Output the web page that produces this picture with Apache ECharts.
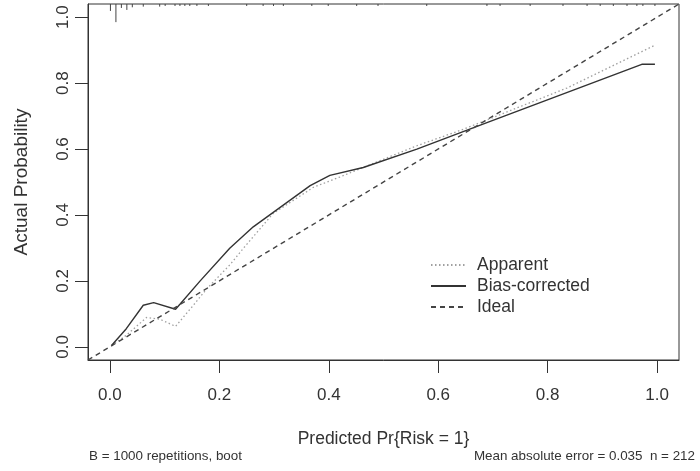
<!DOCTYPE html>
<html lang="en" style="height: 100%">
<head>
  <meta charset="utf-8">
</head>
<body style="height: 100%; margin: 0; background: #fff">
<div id="container" style="height: 100%"></div>

<script type="text/javascript" src="https://cdn.jsdelivr.net/npm/echarts@6/dist/echarts.min.js"></script>

<script type="text/javascript">
  // calibration curves, [predicted, actual]
  var apparent = [[0.003,0.004],[0.03,0.035],[0.067,0.089],[0.091,0.084],[0.12,0.062],[0.152,0.125],
    [0.176,0.174],[0.22,0.25],[0.244,0.299],[0.298,0.404],[0.372,0.484],[0.42,0.515],
    [0.561,0.61],[0.646,0.66],[0.835,0.785],[0.996,0.915]];
  var biasCorrected = [[0.003,0.004],[0.03,0.055],[0.061,0.126],[0.08,0.134],[0.12,0.114],[0.128,0.129],
    [0.165,0.2],[0.219,0.299],[0.262,0.364],[0.366,0.489],[0.402,0.52],[0.463,0.544],
    [0.561,0.6],[0.689,0.68],[0.972,0.857],[0.996,0.857]];
  var ideal = [[-0.04,-0.04],[1.04,1.04]];
  // rug of predicted values at the top: [position, tick length]
  var rugX = [0.001,0.011,0.021,0.031,0.041,0.061,0.091,0.101,0.119,0.128,0.137,0.146,0.159,0.18,
    0.25,0.28,0.299,0.317,0.369,0.399,0.451,0.49,0.579,0.689,0.713,0.768,0.828,0.872,0.896,0.92,
    0.945,0.963,0.974,0.996];
  var rugLen = [0.021,0.055,0.012,0.018,0.01,0.008,0.008,0.006,0.006,0.006,0.006,0.006,0.006,0.006,
    0.006,0.006,0.006,0.006,0.006,0.006,0.006,0.006,0.006,0.006,0.006,0.006,0.006,0.006,0.006,0.006,
    0.006,0.006,0.006,0.006];
  var tickValues = [0, 0.2, 0.4, 0.6, 0.8, 1.0];
  var xTitle = 'Predicted Pr{Risk = 1}';
  var yTitle = 'Actual Probability';
  var noteLeft = 'B = 1000 repetitions, boot';
  var noteRight = 'Mean absolute error = 0.035  n = 212';

  var font = "'Liberation Sans', Arial, sans-serif";
  var ink = '#333';
  var rug = rugX.map(function (x, i) { return [x, rugLen[i]]; });

  var dom = document.getElementById('container');
  var myChart = echarts.init(dom, null, { renderer: 'canvas' });

  var option = {
    animation: false,
    textStyle: { fontFamily: font, color: ink },
    grid: { left: 88, right: 21, top: 4, bottom: 111, show: true, borderColor: ink, borderWidth: 1 },
    xAxis: {
      type: 'value', min: -0.04, max: 1.04,
      name: xTitle, nameLocation: 'middle', nameGap: 70,
      nameTextStyle: { fontSize: 17.5, color: ink, fontFamily: font },
      splitLine: { show: false },
      axisLine: { show: true, onZero: false, lineStyle: { color: ink } },
      axisTick: { show: true, length: 13, customValues: tickValues, lineStyle: { color: ink } },
      axisLabel: { customValues: tickValues, margin: 27, fontSize: 17, color: ink, fontFamily: font,
        formatter: function (v) { return v.toFixed(1); } }
    },
    yAxis: {
      type: 'value', min: -0.04, max: 1.04,
      name: yTitle, nameLocation: 'middle', nameGap: 57,
      nameTextStyle: { fontSize: 19, color: ink, fontFamily: font },
      splitLine: { show: false },
      axisLine: { show: true, onZero: false, lineStyle: { color: ink } },
      axisTick: { show: true, length: 13, customValues: tickValues, lineStyle: { color: ink } },
      axisLabel: { customValues: tickValues, margin: 16, rotate: 90, fontSize: 17, color: ink, fontFamily: font,
        formatter: function (v) { return v.toFixed(1); } }
    },
    legend: {
      data: ['Apparent', 'Bias-corrected', 'Ideal'],
      orient: 'vertical', left: 425, top: 251,
      itemWidth: 35, itemHeight: 14, itemGap: 3,
      itemStyle: { opacity: 0 },
      textStyle: { fontSize: 17.5, color: ink, fontFamily: font, padding: [0, 0, 0, 6] }
    },
    graphic: [
      { type: 'text', left: 89, top: 450, style: { text: noteLeft, fontSize: 13.4, fill: ink, fontFamily: font } },
      { type: 'text', right: 5, top: 450, style: { text: noteRight, fontSize: 13.4, fill: ink, fontFamily: font } }
    ],
    series: [
      {
        name: 'Apparent', type: 'line', data: apparent, symbol: 'none',
        lineStyle: { color: '#a0a0a0', width: 1.3, type: [1.5, 2.5] }, itemStyle: { color: '#a0a0a0' }
      },
      {
        name: 'Bias-corrected', type: 'line', data: biasCorrected, symbol: 'none',
        lineStyle: { color: '#333', width: 1.4 }, itemStyle: { color: '#333' }
      },
      {
        name: 'Ideal', type: 'line', data: ideal, symbol: 'none',
        lineStyle: { color: '#444', width: 1.4, type: [5, 4] }, itemStyle: { color: '#444' }
      },
      {
        name: 'rug', type: 'custom', data: rug, silent: true,
        renderItem: function (params, api) {
          var p1 = api.coord([api.value(0), 1.04]);
          var p2 = api.coord([api.value(0), 1.04 - api.value(1)]);
          return { type: 'line', shape: { x1: p1[0], y1: p1[1], x2: p2[0], y2: p2[1] },
            style: { stroke: '#444', lineWidth: 1 } };
        }
      }
    ]
  };

  myChart.setOption(option);
  window.addEventListener('resize', myChart.resize);
</script>
</body>
</html>
